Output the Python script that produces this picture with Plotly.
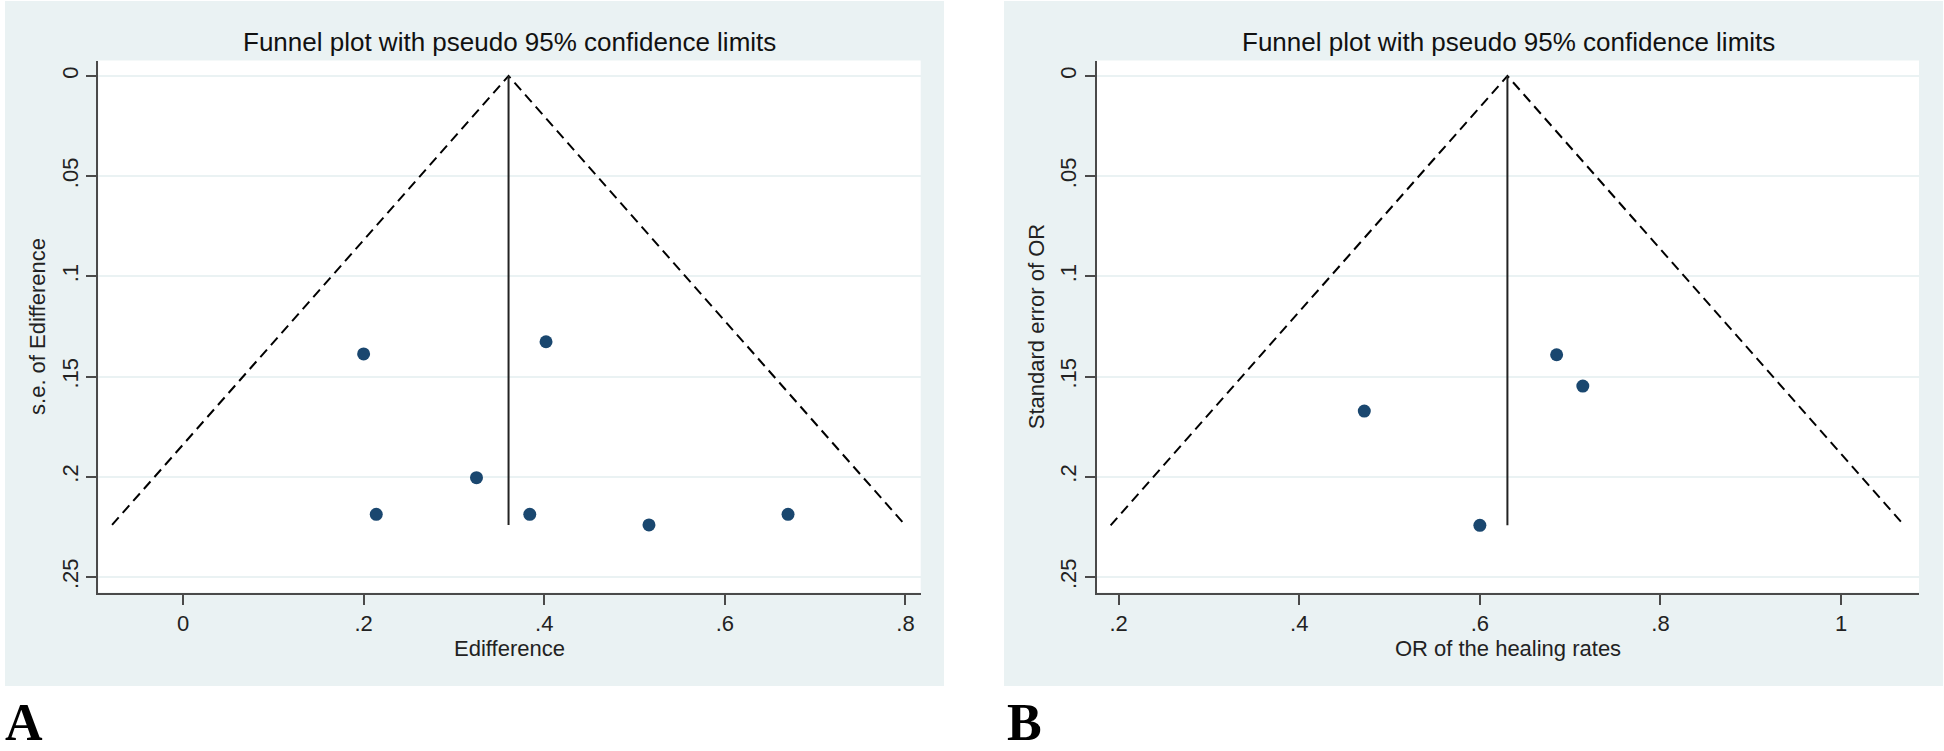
import plotly.graph_objects as go

W, H = 1944, 751

# ---- data ----
a_effect = [0.200, 0.402, 0.325, 0.214, 0.384, 0.516, 0.670]
a_se = [0.1387, 0.1326, 0.2004, 0.2187, 0.2187, 0.2240, 0.2187]
a_theta = 0.3605

b_effect = [0.472, 0.685, 0.714, 0.600]
b_se = [0.1672, 0.1391, 0.1547, 0.2242]
b_theta = 0.6305

y_tickvals = [0, 0.05, 0.1, 0.15, 0.2, 0.25]
y_ticktext = ["0", ".05", ".1", ".15", ".2", ".25"]
a_x_tickvals = [0, 0.2, 0.4, 0.6, 0.8]
a_x_ticktext = ["0", ".2", ".4", ".6", ".8"]
b_x_tickvals = [0.2, 0.4, 0.6, 0.8, 1.0]
b_x_ticktext = [".2", ".4", ".6", ".8", "1"]

title_text = "Funnel plot with pseudo 95% confidence limits"
a_xtitle = "Edifference"
a_ytitle = "s.e. of Edifference"
b_xtitle = "OR of the healing rates"
b_ytitle = "Standard error of OR"

NAVY = "#1a476f"
BG = "#eaf2f3"
GRID = "#eaf2f3"
AXC = "#4a4a4a"
FONT = "Liberation Sans, Arial, Helvetica, sans-serif"

def px_x(p):
    return p / W

def px_y(p):
    return 1 - p / H

fig = go.Figure()

def add_panel(effect, se, theta, xa, ya):
    se_max = max(se)
    # pseudo 95% confidence limits
    fig.add_trace(go.Scatter(
        x=[theta - 1.96 * se_max, theta, theta + 1.96 * se_max],
        y=[se_max, 0, se_max], mode="lines",
        line=dict(color="black", width=2, dash="10px,6px"),
        xaxis=xa, yaxis=ya, showlegend=False, hoverinfo="skip"))
    fig.add_trace(go.Scatter(
        x=[theta, theta], y=[0, se_max], mode="lines",
        line=dict(color="#222222", width=2),
        xaxis=xa, yaxis=ya, showlegend=False, hoverinfo="skip"))
    fig.add_trace(go.Scatter(
        x=effect, y=se, mode="markers",
        marker=dict(color=NAVY, size=13, line=dict(width=0)),
        xaxis=xa, yaxis=ya, showlegend=False))

add_panel(a_effect, a_se, a_theta, "x", "y")
add_panel(b_effect, b_se, b_theta, "x2", "y2")

ydom = [px_y(592.5), px_y(60.5)]
axis_common = dict(
    showline=True, linecolor=AXC, linewidth=2, mirror=False,
    ticks="outside", ticklen=10, tickwidth=2, tickcolor=AXC,
    tickfont=dict(family=FONT, size=22, color="#222222"),
    zeroline=False,
)

yrange = [0.2577, -0.0077]

fig.update_layout(
    width=W, height=H,
    margin=dict(l=0, r=0, t=0, b=0),
    paper_bgcolor="white",
    plot_bgcolor="white",
    xaxis=dict(domain=[px_x(98.3), px_x(920.7)], range=[-0.0938, 0.8169],
               tickvals=a_x_tickvals, ticktext=a_x_ticktext, showgrid=False,
               anchor="y", title=dict(text=a_xtitle, standoff=4,
                                      font=dict(family=FONT, size=22, color="#222222")),
               **axis_common),
    yaxis=dict(domain=ydom, range=yrange, tickvals=y_tickvals, ticktext=y_ticktext,
               tickangle=-90, showgrid=True, gridcolor=GRID, gridwidth=2,
               anchor="x", title=dict(text=a_ytitle, standoff=6,
                                      font=dict(family=FONT, size=22, color="#222222")),
               **axis_common),
    xaxis2=dict(domain=[px_x(1097), px_x(1919)], range=[0.176, 1.0863],
                tickvals=b_x_tickvals, ticktext=b_x_ticktext, showgrid=False,
                anchor="y2", title=dict(text=b_xtitle, standoff=4,
                                        font=dict(family=FONT, size=22, color="#222222")),
                **axis_common),
    yaxis2=dict(domain=ydom, range=yrange, tickvals=y_tickvals, ticktext=y_ticktext,
                tickangle=-90, showgrid=True, gridcolor=GRID, gridwidth=2,
                anchor="x2", title=dict(text=b_ytitle, standoff=6,
                                        font=dict(family=FONT, size=22, color="#222222")),
                **axis_common),
    shapes=[
        dict(type="rect", xref="paper", yref="paper", layer="below",
             x0=px_x(5), x1=px_x(944), y0=px_y(686), y1=px_y(1),
             fillcolor=BG, line=dict(width=0)),
        dict(type="rect", xref="paper", yref="paper", layer="below",
             x0=px_x(1004), x1=px_x(1943), y0=px_y(686), y1=px_y(1),
             fillcolor=BG, line=dict(width=0)),
        dict(type="rect", xref="x domain", yref="y domain", layer="below",
             x0=0, x1=1, y0=0, y1=1, fillcolor="white", line=dict(width=0)),
        dict(type="rect", xref="x2 domain", yref="y2 domain", layer="below",
             x0=0, x1=1, y0=0, y1=1, fillcolor="white", line=dict(width=0)),
    ],
    annotations=[
        dict(text=title_text, xref="x domain", yref="paper", x=0.5, y=px_y(42),
             xanchor="center", yanchor="middle", showarrow=False,
             font=dict(family=FONT, size=26, color="#111111")),
        dict(text=title_text, xref="x2 domain", yref="paper", x=0.5, y=px_y(42),
             xanchor="center", yanchor="middle", showarrow=False,
             font=dict(family=FONT, size=26, color="#111111")),
        dict(text="<b>A</b>", xref="paper", yref="paper", x=px_x(3), y=px_y(722),
             xanchor="left", yanchor="middle", showarrow=False,
             font=dict(family="Liberation Serif, Times New Roman, serif", size=52, color="black")),
        dict(text="<b>B</b>", xref="paper", yref="paper", x=px_x(1005), y=px_y(722),
             xanchor="left", yanchor="middle", showarrow=False,
             font=dict(family="Liberation Serif, Times New Roman, serif", size=52, color="black")),
    ],
)

fig.write_html("out.html", config={"displayModeBar": False},
               post_script="document.body.style.margin='0';document.body.style.overflow='hidden';")
